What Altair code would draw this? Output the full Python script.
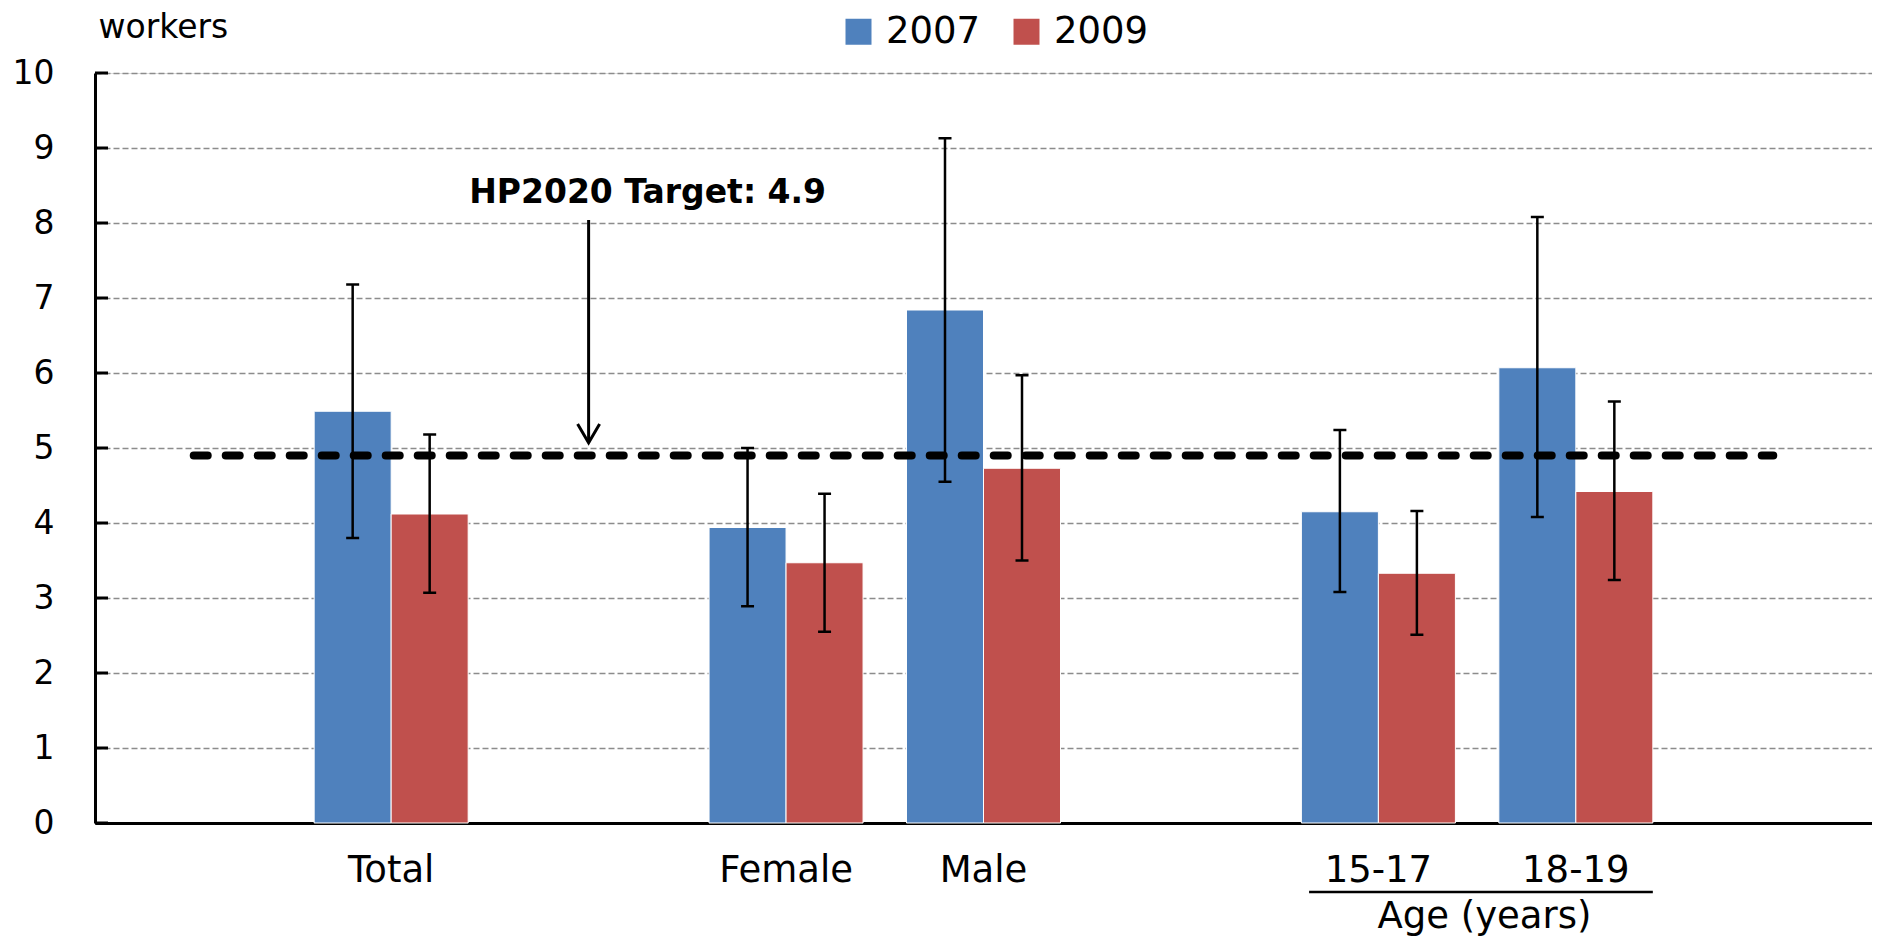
import altair as alt
import pandas as pd

# ---- data ----
categories = [" ", "Total", "  ", "Female", "Male", "   ", "15-17", "18-19", "    "]
groups = ["Total", "Female", "Male", "15-17", "18-19"]
years = ["2007", "2009"]
rate_2007 = [5.49, 3.94, 6.84, 4.15, 6.07]
rate_2009 = [4.12, 3.47, 4.73, 3.33, 4.42]
low_2007 = [3.80, 2.89, 4.55, 3.08, 4.08]
high_2007 = [7.18, 5.00, 9.13, 5.24, 8.08]
low_2009 = [3.07, 2.55, 3.50, 2.51, 3.24]
high_2009 = [5.18, 4.39, 5.97, 4.16, 5.62]
y_ticks = list(range(0, 11))
target = 4.9
target_label = "HP2020 Target: 4.9"
arrow_top = 8.04
arrow_tip = 5.07
label_level = 8.27
colors = ["#4F81BD", "#C0504D"]

rows = []
for i, g in enumerate(groups):
    rows.append({"category": g, "year": "2007", "rate": rate_2007[i], "lo": low_2007[i], "hi": high_2007[i]})
    rows.append({"category": g, "year": "2009", "rate": rate_2009[i], "lo": low_2009[i], "hi": high_2009[i]})
df = pd.DataFrame(rows)

W, H = 1777, 750
FONT = "DejaVu Sans"

xscale = alt.Scale(domain=categories, paddingInner=0.22, paddingOuter=0.11)
yscale = alt.Scale(domain=[0, 10], nice=False)
offscale = alt.Scale(domain=years, paddingInner=0, paddingOuter=0)

x_enc = alt.X("category:N", scale=xscale, sort=categories,
              axis=alt.Axis(title=None, labelAngle=0, labelFontSize=37, labelPadding=58,
                            labelBaseline="alphabetic", ticks=False, tickSize=0,
                            domainColor="black", domainWidth=3, grid=False,
                            labelColor="black", labelOverlap=False, labelFont=FONT))
y_enc = alt.Y("rate:Q", scale=yscale,
              axis=alt.Axis(values=y_ticks, format="d", grid=True, gridDash=[6, 3],
                            gridColor="#8c8c8c", gridWidth=1.5, domainColor="black",
                            domainWidth=3, ticks=False, tickSize=0, labelFontSize=33,
                            labelPadding=41, labelColor="black", labelFont=FONT,
                            title="workers", titleAngle=0, titleX=3, titleY=-36,
                            titleAlign="left", titleBaseline="alphabetic", titleFontSize=33,
                            titleFontWeight="normal", titleColor="black", titleFont=FONT))

bars = alt.Chart(df).mark_bar(stroke="white", strokeWidth=1).encode(
    x=x_enc,
    xOffset=alt.XOffset("year:N", scale=offscale),
    y=y_enc,
    color=alt.Color("year:N", scale=alt.Scale(domain=years, range=colors),
                    legend=alt.Legend(title=None, orient="none", legendX=745, legendY=-60,
                                      direction="horizontal", symbolType="square",
                                      symbolSize=676, symbolStrokeWidth=0,
                                      labelFontSize=37, labelOffset=9, columnPadding=27,
                                      labelColor="black", labelFont=FONT, padding=0)),
)

err = alt.Chart(df).mark_rule(color="black", strokeWidth=2.5).encode(
    x=alt.X("category:N", scale=xscale), xOffset=alt.XOffset("year:N", scale=offscale),
    y=alt.Y("lo:Q", scale=yscale), y2="hi:Q")
cap_lo = alt.Chart(df).mark_tick(color="black", size=13, thickness=2.5, opacity=1).encode(
    x=alt.X("category:N", scale=xscale), xOffset=alt.XOffset("year:N", scale=offscale),
    y=alt.Y("lo:Q", scale=yscale))
cap_hi = alt.Chart(df).mark_tick(color="black", size=13, thickness=2.5, opacity=1).encode(
    x=alt.X("category:N", scale=xscale), xOffset=alt.XOffset("year:N", scale=offscale),
    y=alt.Y("hi:Q", scale=yscale))

ticks_df = pd.DataFrame({"tick": y_ticks})
inward_ticks = alt.Chart(ticks_df).mark_rule(color="black", strokeWidth=3).encode(
    y=alt.Y("tick:Q", scale=yscale), x=alt.value(0), x2=alt.value(13))

target_df = pd.DataFrame({"category": [categories[0]], "category_end": [categories[-1]], "value": [target]})
target_line = alt.Chart(target_df).mark_rule(color="black", strokeWidth=8, strokeDash=[14, 18],
                                             strokeCap="round").encode(
    x=alt.X("category:N", scale=xscale, bandPosition=0.5),
    x2=alt.X2("category_end:N", bandPosition=0.5),
    y=alt.Y("value:Q", scale=yscale))

arrow_df = pd.DataFrame({"category": [categories[2]], "top": [arrow_top], "tip": [arrow_tip],
                         "level": [label_level], "label": [target_label]})
arrow_shaft = alt.Chart(arrow_df).mark_rule(color="black", strokeWidth=3).encode(
    x=alt.X("category:N", scale=xscale), y=alt.Y("top:Q", scale=yscale), y2="tip:Q")
arrow_head = alt.Chart(arrow_df).mark_point(shape="M-1,-1.7L0,0L1,-1.7", size=484, filled=False,
                                            strokeWidth=3, color="black", opacity=1).encode(
    x=alt.X("category:N", scale=xscale), y=alt.Y("tip:Q", scale=yscale))
arrow_text = alt.Chart(arrow_df).mark_text(fontWeight="bold", fontSize=33, dx=59, align="center",
                                           baseline="alphabetic", color="black", font=FONT).encode(
    x=alt.X("category:N", scale=xscale), y=alt.Y("level:Q", scale=yscale), text="label:N")

age_df = pd.DataFrame({"category": ["15-17"], "category_end": ["18-19"], "label": ["Age (years)"]})
bracket = alt.Chart(age_df).mark_rule(color="black", strokeWidth=2.5).encode(
    x=alt.X("category:N", scale=xscale, bandPosition=0.05),
    x2=alt.X2("category_end:N", bandPosition=1),
    y=alt.value(819))
age_text = alt.Chart(age_df).mark_text(fontSize=37, dx=106, align="center", baseline="alphabetic",
                                       color="black", font=FONT).encode(
    x=alt.X("category:N", scale=xscale), y=alt.value(855), text="label:N")

chart = alt.layer(
    bars, err, cap_lo, cap_hi, inward_ticks, target_line, arrow_shaft, arrow_head, arrow_text,
    bracket, age_text
).properties(
    width=W, height=H,
    autosize=alt.AutoSizeParams(type="none"),
    padding={"left": 87, "top": 65, "right": 0, "bottom": 116},
).configure_view(stroke=None).configure(font=FONT)

chart.save("out.html", embed_options={"renderer": "svg", "actions": False})
